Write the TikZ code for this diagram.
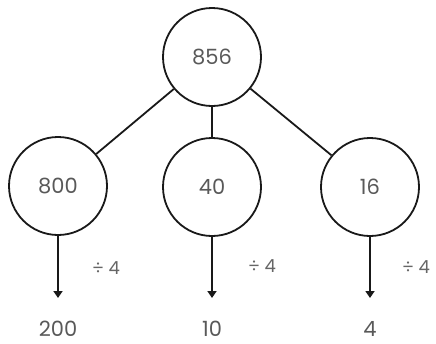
\documentclass[tikz,border=0pt]{standalone}
\usepackage{fontspec}
\setmainfont{Poppins}
\usetikzlibrary{arrows.meta}
\begin{document}
\begin{tikzpicture}[x=1pt,y=-1pt,
  num/.style={circle,draw=black!90,line width=1.8pt,minimum size=98pt,inner sep=0pt,text=black!65,font=\fontsize{21}{22}\selectfont},
  lbl/.style={text=black!65,font=\fontsize{21}{22}\selectfont},
  op/.style={text=black!60,font=\fontsize{18}{20}\selectfont},
  edge/.style={draw=black!90,line width=1.8pt},
  arr/.style={draw=black!90,line width=2pt,-{Triangle[length=7pt,width=9pt]}}]
\useasboundingbox (0,0) rectangle (436,343);
\node[num] (top) at (212,57) {856};
\node[num] (a) at (58,186) {800};
\node[num] (b) at (212,187) {40};
\node[num] (c) at (370,187) {16};
\draw[edge] (top) -- (a);
\draw[edge] (top) -- (b);
\draw[edge] (top) -- (c);
\node[lbl] (ra) at (58,329) {200};
\node[lbl] (rb) at (212,329) {10};
\node[lbl] (rc) at (370,329) {4};
\coordinate (ea) at (58,298);
\coordinate (eb) at (212,298);
\coordinate (ec) at (370,298);
\draw[arr] (a.south) -- (ea);
\draw[arr] (b.south) -- (eb);
\draw[arr] (c.south) -- (ec);
\node[op] (oa) at (106,268) {÷ 4};
\node[op] (ob) at (262,266) {÷ 4};
\node[op] (oc) at (416,267) {÷ 4};
\end{tikzpicture}
\end{document}
